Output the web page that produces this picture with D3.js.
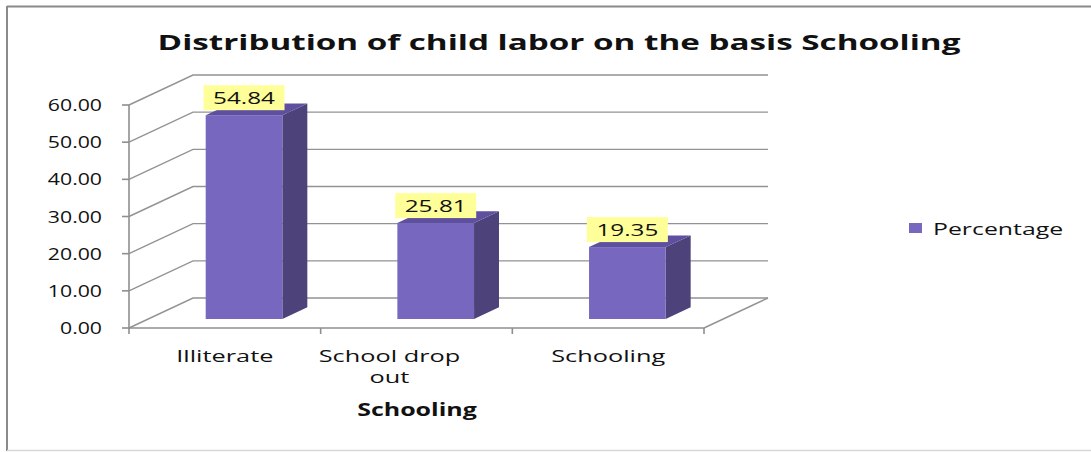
<!DOCTYPE html>
<html>
<head>
<meta charset="utf-8">
<script src="https://cdn.jsdelivr.net/npm/d3@7"></script>
<style>
  html, body { margin: 0; padding: 0; background: #fff; }
  svg text { font-family: "Open Sans", "DejaVu Sans", sans-serif; fill: #111; }
</style>
</head>
<body>
<svg id="chart" width="1091" height="452"></svg>
<script>
// ---- data ----
const categories = ["Illiterate", "School drop out", "Schooling"];
const percentage = [54.84, 25.81, 19.35];
const yTicks = [0, 10, 20, 30, 40, 50, 60];
const seriesName = "Percentage";
const chartTitle = "Distribution of child labor on the basis Schooling";
const xAxisTitle = "Schooling";

// ---- layout ----
const W = 1091, H = 452;
const svg = d3.select("#chart");
const depthX = 64, depthY = -30;
const barF1 = 0.30, barF2 = 0.69;
const wrappedShift = -27;

const x = d3.scaleBand().domain(categories).range([129, 704]).paddingInner(0.6).paddingOuter(0.3);
const y = d3.scaleLinear().domain([0, 60]).range([328, 105]);

function txt(g, xx, yy, s, opts = {}) {
  return g.append("text")
    .attr("transform", `translate(${xx},${yy}) scale(${opts.sx || 1.3},1)`)
    .attr("text-anchor", opts.anchor || "start")
    .style("font-size", (opts.size || 16) + "px")
    .style("font-weight", opts.bold ? "bold" : "normal")
    .text(s);
}

// frame
svg.append("rect").attr("x", 0).attr("y", 0).attr("width", W).attr("height", H).attr("fill", "#fff");
svg.append("line").attr("x1", 7).attr("x2", W).attr("y1", 6.5).attr("y2", 6.5).attr("stroke", "#8a8a8a").attr("stroke-width", 2);
svg.append("line").attr("x1", 7).attr("x2", 7).attr("y1", 6).attr("y2", 451).attr("stroke", "#8a8a8a").attr("stroke-width", 2);
svg.append("line").attr("x1", 7).attr("x2", W).attr("y1", 450.5).attr("y2", 450.5).attr("stroke", "#d8d8d8").attr("stroke-width", 1.5);

// title
txt(svg, 559, 50, chartTitle, { anchor: "middle", size: 22, bold: true, sx: 1.51 });

const grid = svg.append("g").attr("stroke", "#939393").attr("stroke-width", 1.4).attr("fill", "none");
const x0 = x.range()[0], x1 = x.range()[1];
yTicks.forEach(v => {
  grid.append("path").attr("d",
    `M${x0},${y(v)} L${x0 + depthX},${y(v) + depthY} L${x1 + depthX},${y(v) + depthY}`);
});
grid.append("path").attr("d", `M${x1},${y(0)} L${x1 + depthX},${y(0) + depthY}`);

// axes
const ax = svg.append("g").attr("stroke", "#8f8f8f").attr("stroke-width", 1.6);
ax.append("line").attr("x1", x0).attr("x2", x0).attr("y1", y(60)).attr("y2", y(0) + 1);
ax.append("line").attr("x1", x0).attr("x2", x1).attr("y1", y(0)).attr("y2", y(0));
yTicks.forEach(v => {
  ax.append("line").attr("x1", x0 - 7).attr("x2", x0).attr("y1", y(v)).attr("y2", y(v));
});
const step = x.step();
const catEdges = [x0].concat(categories.map((c, i) => x0 + step * (i + 1)));
catEdges.forEach(e => {
  ax.append("line").attr("x1", e).attr("x2", e).attr("y1", y(0)).attr("y2", y(0) + 6);
});

// y tick labels
yTicks.forEach(v => {
  txt(svg, 102, y(v) + 6, d3.format(".2f")(v), { anchor: "end", size: 17, sx: 1.25 });
});

// bars
const bars = svg.append("g");
categories.forEach((c, i) => {
  const v = percentage[i];
  const bw = x.bandwidth();
  const fx = x(c) + barF1 * depthX, fy0 = y(0) + barF1 * depthY, fyt = y(v) + barF1 * depthY;
  const ddx = (barF2 - barF1) * depthX, ddy = (barF2 - barF1) * depthY;
  bars.append("path").attr("d",
    `M${fx + bw},${fy0} L${fx + bw + ddx},${fy0 + ddy} L${fx + bw + ddx},${fyt + ddy} L${fx + bw},${fyt} Z`)
    .attr("fill", "#4d4279");
  bars.append("path").attr("d",
    `M${fx},${fyt} L${fx + ddx},${fyt + ddy} L${fx + bw + ddx},${fyt + ddy} L${fx + bw},${fyt} Z`)
    .attr("fill", "#5f509f");
  bars.append("rect").attr("x", fx).attr("y", fyt).attr("width", bw).attr("height", fy0 - fyt)
    .attr("fill", "#7867be");
  const cx = fx + bw / 2;
  const bh = 25, bwid = 81;
  bars.append("rect").attr("x", cx - bwid / 2).attr("y", fyt - 5 - bh).attr("width", bwid).attr("height", bh)
    .attr("fill", "#ffff99");
  txt(bars, cx, fyt - 5 - bh / 2 + 6, d3.format(".2f")(v), { anchor: "middle", size: 17, sx: 1.43 });
});

// category labels (wrap)
categories.forEach((c, i) => {
  const words = c.split(" ");
  const lines = [];
  let cur = "";
  words.forEach(w => {
    const test = cur ? cur + " " + w : w;
    if (test.length > 11 && cur) { lines.push(cur); cur = w; } else cur = test;
  });
  lines.push(cur);
  const cx = x0 + step * (i + 0.5) + (lines.length > 1 ? wrappedShift : 0);
  lines.forEach((ln, j) => txt(svg, cx, 362 + j * 21, ln, { anchor: "middle", size: 17, sx: 1.49 }));
});

// x axis title
txt(svg, 417, 416, xAxisTitle, { anchor: "middle", size: 17, bold: true, sx: 1.47 });

// legend
svg.append("rect").attr("x", 909).attr("y", 223).attr("width", 13).attr("height", 10).attr("fill", "#7867be");
txt(svg, 933, 235, seriesName, { size: 17, sx: 1.46 });
</script>
</body>
</html>
